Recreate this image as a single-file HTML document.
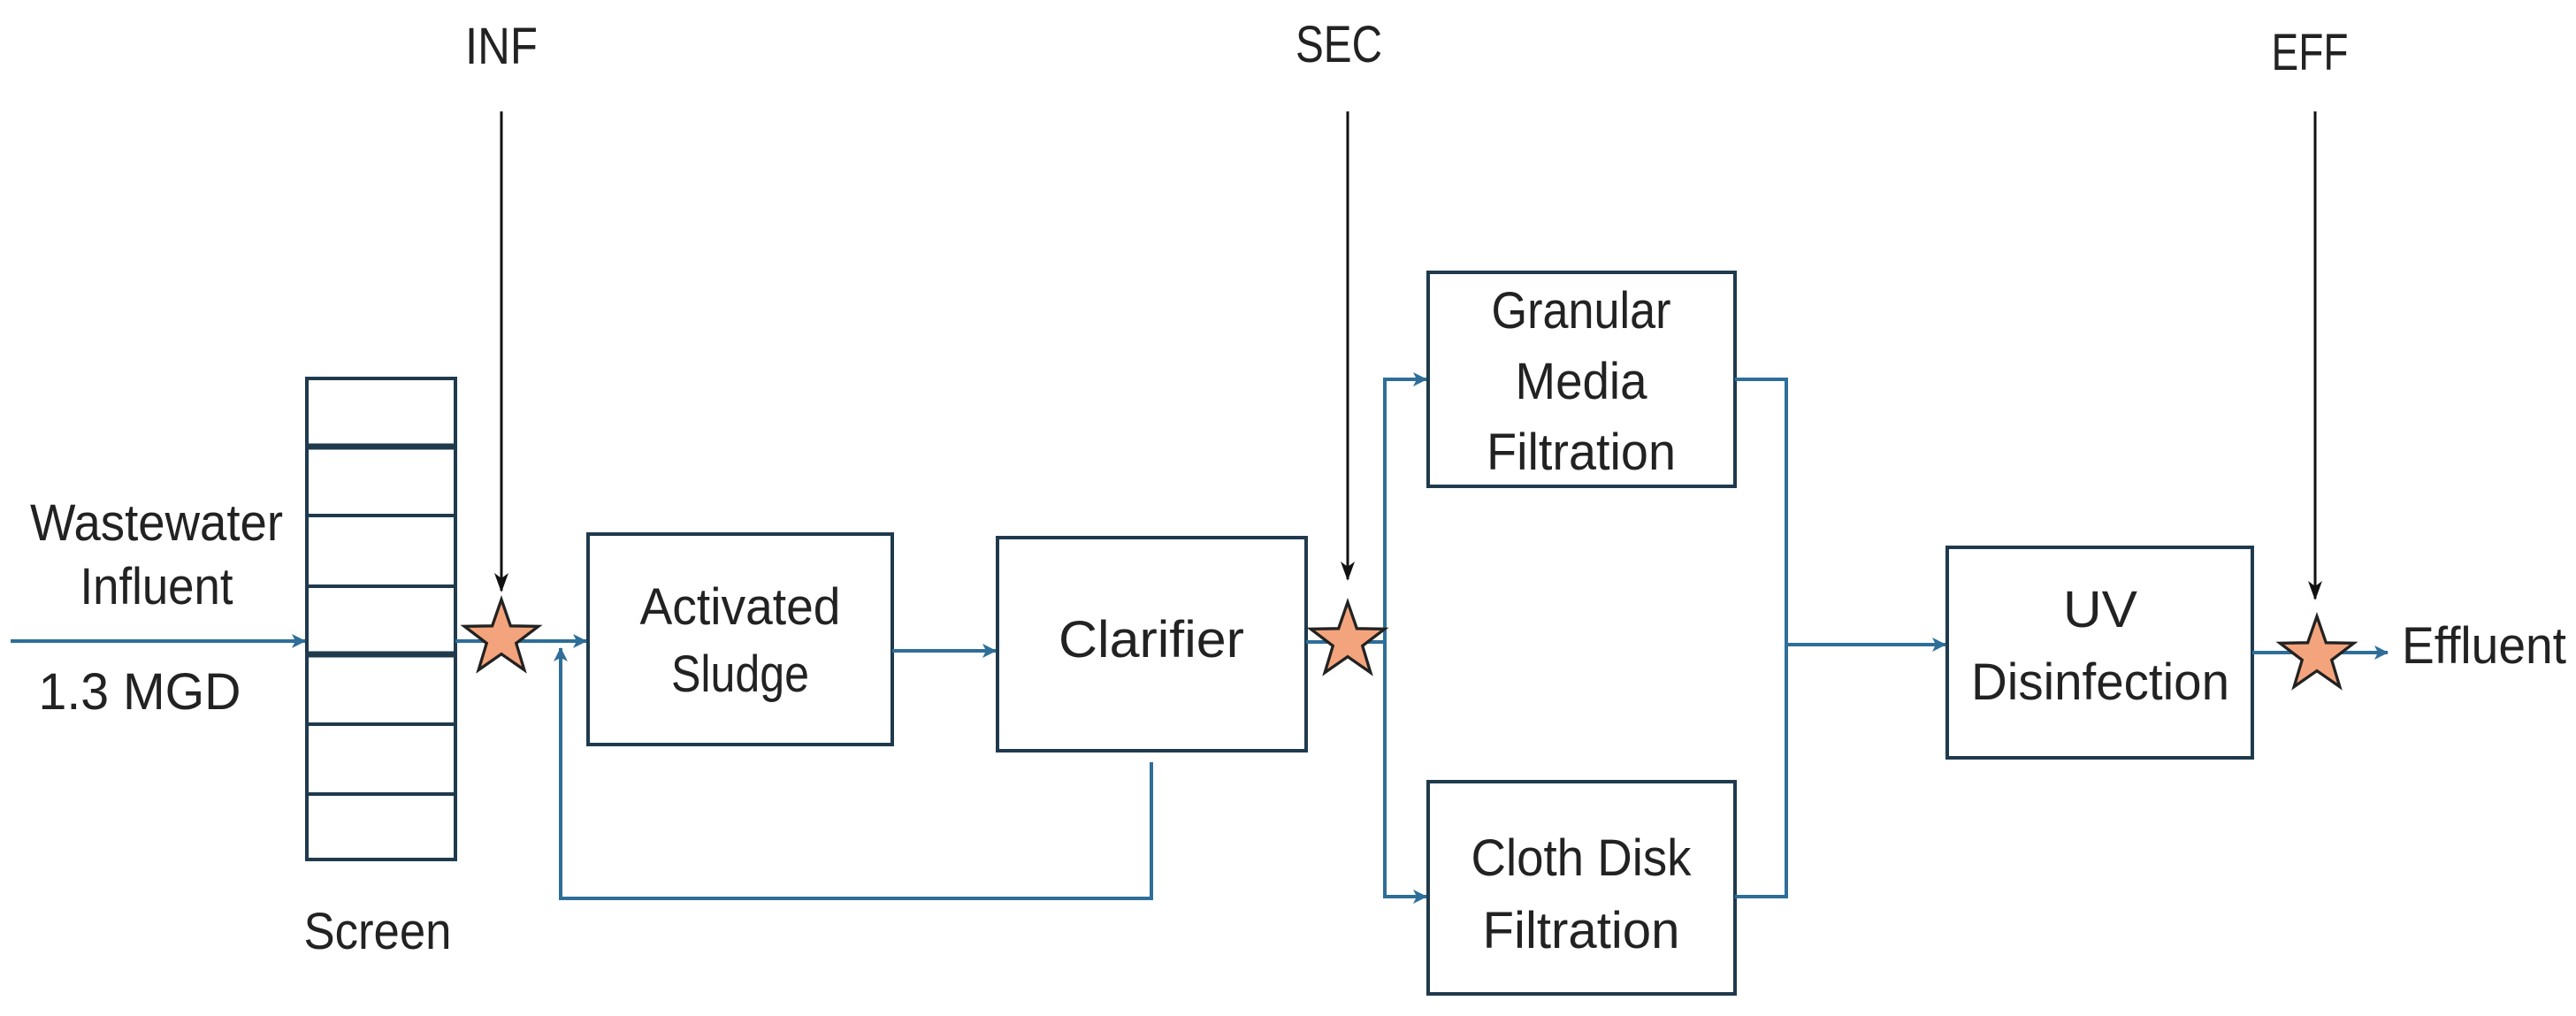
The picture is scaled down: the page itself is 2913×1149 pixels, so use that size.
<!DOCTYPE html>
<html><head><meta charset="utf-8"><style>html,body{margin:0;padding:0;background:#fff}svg{display:block}</style></head>
<body>
<svg width="2913" height="1149" viewBox="0 0 2913 1149" xmlns="http://www.w3.org/2000/svg">
<defs>
<marker id="ab" markerWidth="16" markerHeight="16" refX="15" refY="8" orient="auto" markerUnits="userSpaceOnUse" viewBox="0 0 16 16"><path d="M0,0 L16,8 L0,16 L4,8 z" fill="#2e6e99"/></marker>
<marker id="ak" markerWidth="16" markerHeight="22" refX="8" refY="20" orient="0" markerUnits="userSpaceOnUse" viewBox="0 0 16 22"><path d="M0,0 L8,22 L16,0 L8,6 z" fill="#111"/></marker>
</defs>
<g font-family="Liberation Sans, sans-serif" font-size="58" fill="#222" text-anchor="middle">
<text x="567" y="72" textLength="82" lengthAdjust="spacingAndGlyphs">INF</text>
<text x="1514" y="70" textLength="98" lengthAdjust="spacingAndGlyphs">SEC</text>
<text x="2612" y="79" textLength="87" lengthAdjust="spacingAndGlyphs">EFF</text>
<text x="177" y="611" textLength="286" lengthAdjust="spacingAndGlyphs">Wastewater</text>
<text x="177" y="683" textLength="173" lengthAdjust="spacingAndGlyphs">Influent</text>
<text x="158" y="802" textLength="229" lengthAdjust="spacingAndGlyphs">1.3 MGD</text>
<text x="427" y="1073" textLength="167" lengthAdjust="spacingAndGlyphs">Screen</text>
<text x="837" y="706" textLength="227" lengthAdjust="spacingAndGlyphs">Activated</text>
<text x="837" y="782" textLength="156" lengthAdjust="spacingAndGlyphs">Sludge</text>
<text x="1302" y="743" textLength="210" lengthAdjust="spacingAndGlyphs">Clarifier</text>
<text x="1788" y="371" textLength="203" lengthAdjust="spacingAndGlyphs">Granular</text>
<text x="1788" y="451" textLength="149" lengthAdjust="spacingAndGlyphs">Media</text>
<text x="1788" y="531" textLength="214" lengthAdjust="spacingAndGlyphs">Filtration</text>
<text x="1788" y="990" textLength="249" lengthAdjust="spacingAndGlyphs">Cloth Disk</text>
<text x="1788" y="1072" textLength="223" lengthAdjust="spacingAndGlyphs">Filtration</text>
<text x="2375" y="709" textLength="84" lengthAdjust="spacingAndGlyphs">UV</text>
<text x="2375" y="791" textLength="292" lengthAdjust="spacingAndGlyphs">Disinfection</text>
<text x="2809" y="750" textLength="186" lengthAdjust="spacingAndGlyphs">Effluent</text>
</g>
<g fill="none" stroke="#1f3a4d" stroke-width="4">
<rect x="347" y="428" width="168" height="544"/>
<line x1="347" y1="505" x2="515" y2="505" stroke-width="7"/>
<line x1="347" y1="583" x2="515" y2="583"/>
<line x1="347" y1="663" x2="515" y2="663"/>
<line x1="347" y1="740" x2="515" y2="740" stroke-width="7"/>
<line x1="347" y1="819" x2="515" y2="819"/>
<line x1="347" y1="898" x2="515" y2="898"/>
<rect x="665" y="604" width="344" height="238"/>
<rect x="1128" y="608" width="349" height="241"/>
<rect x="1615" y="308" width="347" height="242"/>
<rect x="1615" y="884" width="347" height="240"/>
<rect x="2202" y="619" width="345" height="238"/>
</g>
<g fill="none" stroke="#2e6e99" stroke-width="4">
<line x1="12" y1="725" x2="345" y2="725" marker-end="url(#ab)"/>
<line x1="515" y1="725" x2="663" y2="725" marker-end="url(#ab)"/>
<line x1="1009" y1="736" x2="1126" y2="736" marker-end="url(#ab)"/>
<polyline points="1302,862 1302,1016 634,1016 634,733" marker-end="url(#ab)"/>
<line x1="1477" y1="726" x2="1566" y2="726"/>
<polyline points="1566,726 1566,429 1613,429" marker-end="url(#ab)"/>
<polyline points="1566,726 1566,1014 1613,1014" marker-end="url(#ab)"/>
<polyline points="1962,429 2020,429 2020,1014 1962,1014"/>
<line x1="2020" y1="729" x2="2200" y2="729" marker-end="url(#ab)"/>
<line x1="2547" y1="738" x2="2700" y2="738" marker-end="url(#ab)"/>
</g>
<g stroke="#111" stroke-width="3">
<line x1="567" y1="126" x2="567" y2="668" marker-end="url(#ak)"/>
<line x1="1524" y1="126" x2="1524" y2="655" marker-end="url(#ak)"/>
<line x1="2618" y1="126" x2="2618" y2="677" marker-end="url(#ak)"/>
</g>
<g fill="#f4a47c" stroke="#222" stroke-width="3">
<polygon transform="translate(567,722) scale(1.1)" points="0,-40 9.4,-12.9 38,-12.4 15.2,4.9 23.5,32.4 0,16 -23.5,32.4 -15.2,4.9 -38,-12.4 -9.4,-12.9"/>
<polygon transform="translate(1524,725) scale(1.1)" points="0,-40 9.4,-12.9 38,-12.4 15.2,4.9 23.5,32.4 0,16 -23.5,32.4 -15.2,4.9 -38,-12.4 -9.4,-12.9"/>
<polygon transform="translate(2620,741) scale(1.1)" points="0,-40 9.4,-12.9 38,-12.4 15.2,4.9 23.5,32.4 0,16 -23.5,32.4 -15.2,4.9 -38,-12.4 -9.4,-12.9"/>
</g>
</svg>
</body></html>
